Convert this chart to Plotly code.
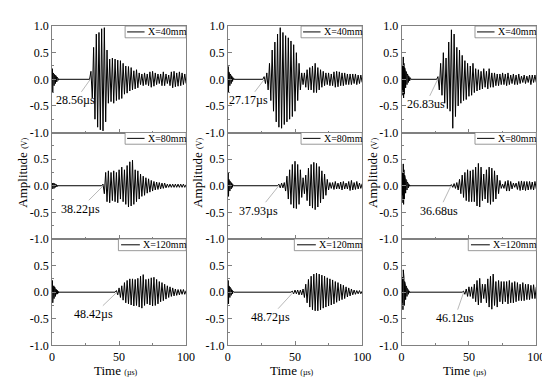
import numpy as np
import plotly.graph_objects as go

# ---------------- data ----------------
time_ticks = [0, 50, 100]
time_tick_labels = ["0", "50", "100"]
time_minor = [25, 75]
amp_ticks = [-1.0, -0.5, 0.0, 0.5, 1.0]
amp_tick_labels = ["-1.0", "-0.5", "0.0", "0.5", "1.0"]
amp_minor = [-0.75, -0.25, 0.25, 0.75]

distances = ["X=40mm", "X=80mm", "X=120mm"]
time_units = ["µs", "µs", "us"]

burst_step = 0.25   # µs between samples of the trigger burst
wave_step = 1.0     # µs between successive peaks of the received wave

# onset times (µs), rows = distance, columns = specimen
onset_c1 = [28.56, 38.22, 48.42]
onset_c2 = [27.17, 37.93, 48.72]
onset_c3 = [26.83, 36.68, 46.12]

# trigger bursts at t = 0
burst_r1c1 = [0.0, 0.2, -0.24, 0.12, -0.15, 0.1, -0.12, 0.09, -0.1, 0.08, -0.08, 0.07, -0.06, 0.05, -0.05, 0.04, -0.03, 0.02, -0.02, 0.01, 0.0]
burst_r2c1 = [0.0, 0.05, -0.06, 0.05, -0.05, 0.04, -0.05, 0.04, -0.04, 0.03, -0.03, 0.03, -0.02, 0.02, -0.02, 0.01, -0.01, 0.0]
burst_r3c1 = [0.0, 0.22, -0.2, 0.12, -0.16, 0.12, -0.12, 0.1, -0.1, 0.08, -0.08, 0.06, -0.06, 0.05, -0.04, 0.04, -0.03, 0.02, -0.02, 0.01, 0.0]
burst_r1c2 = [0.0, 0.24, -0.24, 0.14, -0.16, 0.1, -0.12, 0.1, -0.1, 0.08, -0.08, 0.06, -0.06, 0.05, -0.04, 0.03, -0.03, 0.02, -0.01, 0.01, 0.0]
burst_r2c2 = [0.0, 0.24, -0.2, 0.12, -0.14, 0.1, -0.1, 0.08, -0.08, 0.07, -0.06, 0.05, -0.05, 0.04, -0.03, 0.02, -0.02, 0.01, 0.0]
burst_r3c2 = [0.0, 0.22, -0.22, 0.12, -0.14, 0.1, -0.1, 0.09, -0.08, 0.07, -0.06, 0.05, -0.05, 0.04, -0.03, 0.02, -0.02, 0.01, 0.0]
burst_r1c3 = [0.0, 0.15, -0.2, 0.25, -0.3, 0.42, -0.35, 0.3, -0.28, 0.22, -0.2, 0.18, -0.16, 0.15, -0.12, 0.12, -0.1, 0.1, -0.08, 0.08, -0.06, 0.06, -0.05, 0.04, -0.03, 0.03, -0.02, 0.02, -0.01, 0.0]
burst_r2c3 = [0.0, 0.12, -0.18, 0.25, -0.32, 0.41, -0.35, 0.3, -0.25, 0.2, -0.18, 0.15, -0.14, 0.12, -0.1, 0.1, -0.08, 0.07, -0.06, 0.05, -0.04, 0.03, -0.02, 0.02, -0.01, 0.0]
burst_r3c3 = [0.0, 0.15, -0.2, 0.28, -0.33, 0.42, -0.3, 0.28, -0.25, 0.2, -0.18, 0.16, -0.14, 0.12, -0.1, 0.1, -0.08, 0.07, -0.06, 0.05, -0.04, 0.03, -0.02, 0.02, -0.01, 0.0]

# received waves: first sample time and successive peak values
wave_start_r1c1 = 28
wave_r1c1 = [0.0, 0.15, -0.35, 0.6, -0.75, 0.85, -0.9, 0.88, -0.95, 0.95, -0.97, 0.97, -0.8, 0.55, -0.45, 0.38, -0.42, 0.4, -0.45, 0.38, -0.4,
             0.36, -0.38, 0.35, -0.36, 0.3, -0.28, 0.25, -0.26, 0.24, -0.22, 0.22, -0.2, 0.16, -0.18, 0.18, -0.16, 0.12, -0.1, 0.1, -0.12,
             0.12, -0.1, 0.1, -0.12, 0.14, -0.15, 0.15, -0.13, 0.12, -0.1, 0.1, -0.08, 0.1, -0.12, 0.14, -0.12, 0.1, -0.08, 0.08, -0.12,
             0.14, -0.16, 0.15, -0.14, 0.12, -0.13, 0.14, -0.12, 0.12, -0.1, 0.1, -0.08]
wave_start_r1c2 = 26
wave_r1c2 = [0.0, 0.05, -0.08, 0.12, -0.2, 0.3, -0.4, 0.55, -0.6, 0.7, -0.8, 0.85, -0.9, 0.97, -0.92, 0.88, -0.85, 0.82, -0.8, 0.78, -0.75,
             0.72, -0.7, 0.65, -0.6, 0.5, -0.4, 0.3, -0.2, 0.12, -0.1, 0.12, -0.15, 0.18, -0.2, 0.22, -0.2, 0.25, -0.25, 0.3, -0.25,
             0.22, -0.2, 0.18, -0.15, 0.15, -0.12, 0.12, -0.1, 0.12, -0.12, 0.1, -0.12, 0.14, -0.15, 0.15, -0.14, 0.14, -0.12, 0.12, -0.12,
             0.12, -0.1, 0.1, -0.1, 0.1, -0.1, 0.1, -0.08, 0.1, -0.1, 0.08, -0.08, 0.08, -0.06]
wave_start_r1c3 = 26
wave_r1c3 = [0.0, 0.05, -0.2, 0.3, -0.3, 0.5, -0.45, 0.4, -0.55, 0.7, -0.6, 0.93, -0.92, 0.85, -0.7, 0.6, -0.5, 0.55, -0.45, 0.45, -0.4,
             0.35, -0.38, 0.3, -0.32, 0.25, -0.3, 0.3, -0.25, 0.2, -0.22, 0.18, -0.2, 0.15, -0.18, 0.2, -0.15, 0.15, -0.18, 0.2, -0.15,
             0.12, -0.15, 0.12, -0.12, 0.1, -0.12, 0.1, -0.1, 0.12, -0.1, 0.1, -0.12, 0.12, -0.1, 0.08, -0.08, 0.1, -0.1, 0.08, -0.1,
             0.1, -0.08, 0.06, -0.06, 0.08, -0.08, 0.06, -0.06, 0.08, -0.1, 0.08, -0.06, 0.08, -0.06]
wave_start_r2c1 = 37
wave_r2c1 = [0.0, 0.03, -0.15, 0.25, -0.3, 0.28, -0.32, 0.25, -0.28, 0.28, -0.3, 0.25, -0.32, 0.3, -0.25, 0.35, -0.3, 0.3, -0.35, 0.38, -0.4,
             0.45, -0.38, 0.48, -0.35, 0.3, -0.3, 0.28, -0.25, 0.22, -0.2, 0.18, -0.18, 0.15, -0.14, 0.13, -0.12, 0.1, -0.1, 0.08, -0.08,
             0.07, -0.07, 0.06, -0.06, 0.05, -0.05, 0.05, -0.04, 0.03, -0.03, 0.03, -0.03, 0.03, -0.03, 0.03, -0.03, 0.03, -0.03, 0.03, -0.03,
             0.03, -0.03, 0.02]
wave_start_r2c2 = 37
wave_r2c2 = [0.0, 0.03, -0.04, 0.05, -0.04, 0.06, -0.1, 0.18, -0.25, 0.3, -0.35, 0.4, -0.42, 0.46, -0.43, 0.4, -0.35, 0.3, -0.22, 0.15, -0.15,
             0.2, -0.28, 0.33, -0.38, 0.4, -0.42, 0.44, -0.45, 0.42, -0.4, 0.36, -0.32, 0.28, -0.25, 0.22, -0.18, 0.12, -0.08, 0.06, -0.05,
             0.06, -0.07, 0.08, -0.06, 0.05, -0.06, 0.07, -0.08, 0.08, -0.06, 0.05, -0.06, 0.08, -0.09, 0.1, -0.08, 0.06, -0.07, 0.08, -0.06,
             0.05, -0.05, 0.04]
wave_start_r2c3 = 36
wave_r2c3 = [0.0, 0.02, -0.03, 0.04, -0.05, 0.06, -0.08, 0.12, -0.15, 0.2, -0.22, 0.25, -0.28, 0.3, -0.3, 0.28, -0.3, 0.3, -0.3, 0.35, -0.38,
             0.42, -0.4, 0.35, -0.28, 0.22, -0.25, 0.3, -0.32, 0.35, -0.35, 0.33, -0.3, 0.28, -0.25, 0.2, -0.15, 0.1, -0.05, 0.03, -0.05,
             0.08, -0.1, 0.1, -0.1, 0.08, -0.06, 0.05, -0.03, 0.05, -0.07, 0.08, -0.09, 0.09, -0.08, 0.08, -0.09, 0.08, -0.08, 0.08, -0.07,
             0.07, -0.08, 0.08, -0.06]
wave_start_r3c1 = 47
wave_r3c1 = [0.0, 0.03, -0.05, 0.08, -0.1, 0.12, -0.15, 0.18, -0.2, 0.22, -0.22, 0.25, -0.24, 0.25, -0.26, 0.24, -0.25, 0.26, -0.28, 0.3, -0.3,
             0.33, -0.25, 0.24, -0.22, 0.25, -0.24, 0.27, -0.26, 0.28, -0.25, 0.24, -0.22, 0.2, -0.18, 0.18, -0.16, 0.15, -0.13, 0.12, -0.1,
             0.1, -0.08, 0.08, -0.07, 0.06, -0.06, 0.05, -0.05, 0.05, -0.04, 0.05, -0.04, 0.03]
wave_start_r3c2 = 47
wave_r3c2 = [0.0, 0.02, -0.03, 0.04, -0.03, 0.04, -0.05, 0.04, -0.05, 0.06, -0.1, 0.15, -0.2, 0.24, -0.28, 0.3, -0.33, 0.34, -0.35, 0.36, -0.35,
             0.34, -0.33, 0.32, -0.3, 0.3, -0.28, 0.27, -0.26, 0.25, -0.24, 0.23, -0.22, 0.2, -0.19, 0.18, -0.16, 0.15, -0.14, 0.13, -0.12,
             0.1, -0.09, 0.08, -0.07, 0.06, -0.05, 0.04, -0.04, 0.03, -0.03, 0.03, -0.03, 0.02]
wave_start_r3c3 = 45
wave_r3c3 = [0.0, 0.02, -0.04, 0.06, -0.08, 0.1, -0.08, 0.1, -0.12, 0.15, -0.18, 0.22, -0.24, 0.26, -0.2, 0.15, -0.12, 0.15, -0.2, 0.25, -0.28,
             0.3, -0.32, 0.34, -0.25, 0.2, -0.28, 0.22, -0.18, 0.2, -0.22, 0.2, -0.18, 0.2, -0.22, 0.22, -0.2, 0.18, -0.2, 0.2, -0.18,
             0.18, -0.16, 0.15, -0.16, 0.18, -0.16, 0.15, -0.14, 0.15, -0.14, 0.13, -0.12, 0.14, -0.12, 0.1]

bursts = [[burst_r1c1, burst_r1c2, burst_r1c3],
          [burst_r2c1, burst_r2c2, burst_r2c3],
          [burst_r3c1, burst_r3c2, burst_r3c3]]
waves = [[wave_r1c1, wave_r1c2, wave_r1c3],
         [wave_r2c1, wave_r2c2, wave_r2c3],
         [wave_r3c1, wave_r3c2, wave_r3c3]]
wave_starts = [[wave_start_r1c1, wave_start_r1c2, wave_start_r1c3],
               [wave_start_r2c1, wave_start_r2c2, wave_start_r2c3],
               [wave_start_r3c1, wave_start_r3c2, wave_start_r3c3]]
onsets = [onset_c1, onset_c2, onset_c3]

# ---------------- layout geometry ----------------
W, H = 550, 381
col_px = [(42, 179), (221.7, 359), (399.3, 537)]
row_px = [(11.5, 122), (122, 232.5), (232.5, 343)]
# onset label offsets (px) relative to onset point
label_off = [[(-15, 21), (-16, 21), (-12, 25)],
             [(-23, 23), (-20, 25), (-12, 25)],
             [(-23, 22), (-23, 25), (-9, 26)]]
legend_geom = [(0.545, 0.56, 0.69, 0.70), (0.545, 0.56, 0.69, 0.70), (0.495, 0.515, 0.655, 0.665)]
ytitle_x = [12, 191, 370]
xtitle_x = [107, 287, 464]

FONT = "Times New Roman, Liberation Serif, serif"
FRAME = "#808080"

fig = go.Figure()
layout = {}
shapes, annotations = [], []

for r in range(3):
    for c in range(3):
        n = r * 3 + c + 1
        sfx = "" if n == 1 else str(n)
        b = bursts[r][c]
        w = waves[r][c]
        t_b = np.arange(len(b)) * burst_step
        t_w = wave_starts[r][c] + np.arange(len(w)) * wave_step
        x = np.concatenate([t_b, t_w])
        y = np.concatenate([b, w])
        fig.add_trace(go.Scatter(x=x, y=y, mode="lines", line=dict(color="black", width=1),
                                 xaxis="x" + sfx, yaxis="y" + sfx, showlegend=False, hoverinfo="skip"))
        x0, x1 = col_px[c]
        y0, y1 = row_px[r]
        layout["xaxis" + sfx] = dict(
            domain=[x0 / W, x1 / W], anchor="y" + sfx, range=[0, 100],
            showline=True, mirror=True, linecolor=FRAME, linewidth=1,
            ticks="inside", ticklen=4, tickcolor=FRAME,
            tickvals=time_ticks, ticktext=time_tick_labels, showticklabels=(r == 2),
            minor=dict(ticks="inside", ticklen=2, tickvals=time_minor, tickcolor=FRAME),
            showgrid=False, zeroline=False,
            tickfont=dict(family=FONT, size=12, color="black"))
        tv = amp_ticks if r == 0 else amp_ticks[:-1]
        tt = amp_tick_labels if r == 0 else amp_tick_labels[:-1]
        layout["yaxis" + sfx] = dict(
            domain=[1 - y1 / H, 1 - y0 / H], anchor="x" + sfx, range=[-1, 1],
            showline=True, mirror=True, linecolor=FRAME, linewidth=1,
            ticks="inside", ticklen=4, tickcolor=FRAME,
            tickvals=tv, ticktext=tt,
            minor=dict(ticks="inside", ticklen=2, tickvals=amp_minor, tickcolor=FRAME),
            showgrid=False, zeroline=False,
            tickfont=dict(family=FONT, size=12, color="black"))
        # onset annotation
        on = onsets[c][r]
        ax, ay = label_off[r][c]
        annotations.append(dict(
            x=on, y=0, xref="x" + sfx, yref="y" + sfx, text=f"{on:.2f}{time_units[c]}",
            showarrow=True, arrowhead=0, arrowwidth=0.7, arrowcolor="#999999", ax=ax, ay=ay,
            font=dict(family=FONT, size=12, color="black")))
        # legend box
        bx0, lx0, lx1, tx = legend_geom[r]
        xd, yd = "x" + sfx + " domain", "y" + sfx + " domain"
        shapes.append(dict(type="rect", xref=xd, yref=yd, x0=bx0, x1=1.0, y0=0.89, y1=1.0,
                           line=dict(color=FRAME, width=0.8), fillcolor="white"))
        shapes.append(dict(type="line", xref=xd, yref=yd, x0=lx0, x1=lx1, y0=0.945, y1=0.945,
                           line=dict(color="black", width=1)))
        annotations.append(dict(x=tx, y=0.945, xref=xd, yref=yd, text=distances[r], showarrow=False,
                                xanchor="left", yanchor="middle",
                                font=dict(family=FONT, size=10, color="black")))

for c in range(3):
    annotations.append(dict(x=ytitle_x[c] / W, y=1 - 164 / H, xref="paper", yref="paper",
                            text="Amplitude <span style='font-size:8px'>(V)</span>", textangle=-90,
                            showarrow=False, xanchor="center", yanchor="middle",
                            font=dict(family=FONT, size=13, color="black")))
    annotations.append(dict(x=xtitle_x[c] / W, y=1 - 369 / H, xref="paper", yref="paper",
                            text="Time <span style='font-size:8px'>(µs)</span>",
                            showarrow=False, xanchor="center", yanchor="middle",
                            font=dict(family=FONT, size=13, color="black")))

fig.update_layout(**layout)
fig.update_layout(width=W, height=H, margin=dict(l=0, r=0, t=0, b=0),
                  plot_bgcolor="white", paper_bgcolor="white",
                  font=dict(family=FONT),
                  shapes=shapes, annotations=annotations, showlegend=False)
fig.write_html("out.html")
